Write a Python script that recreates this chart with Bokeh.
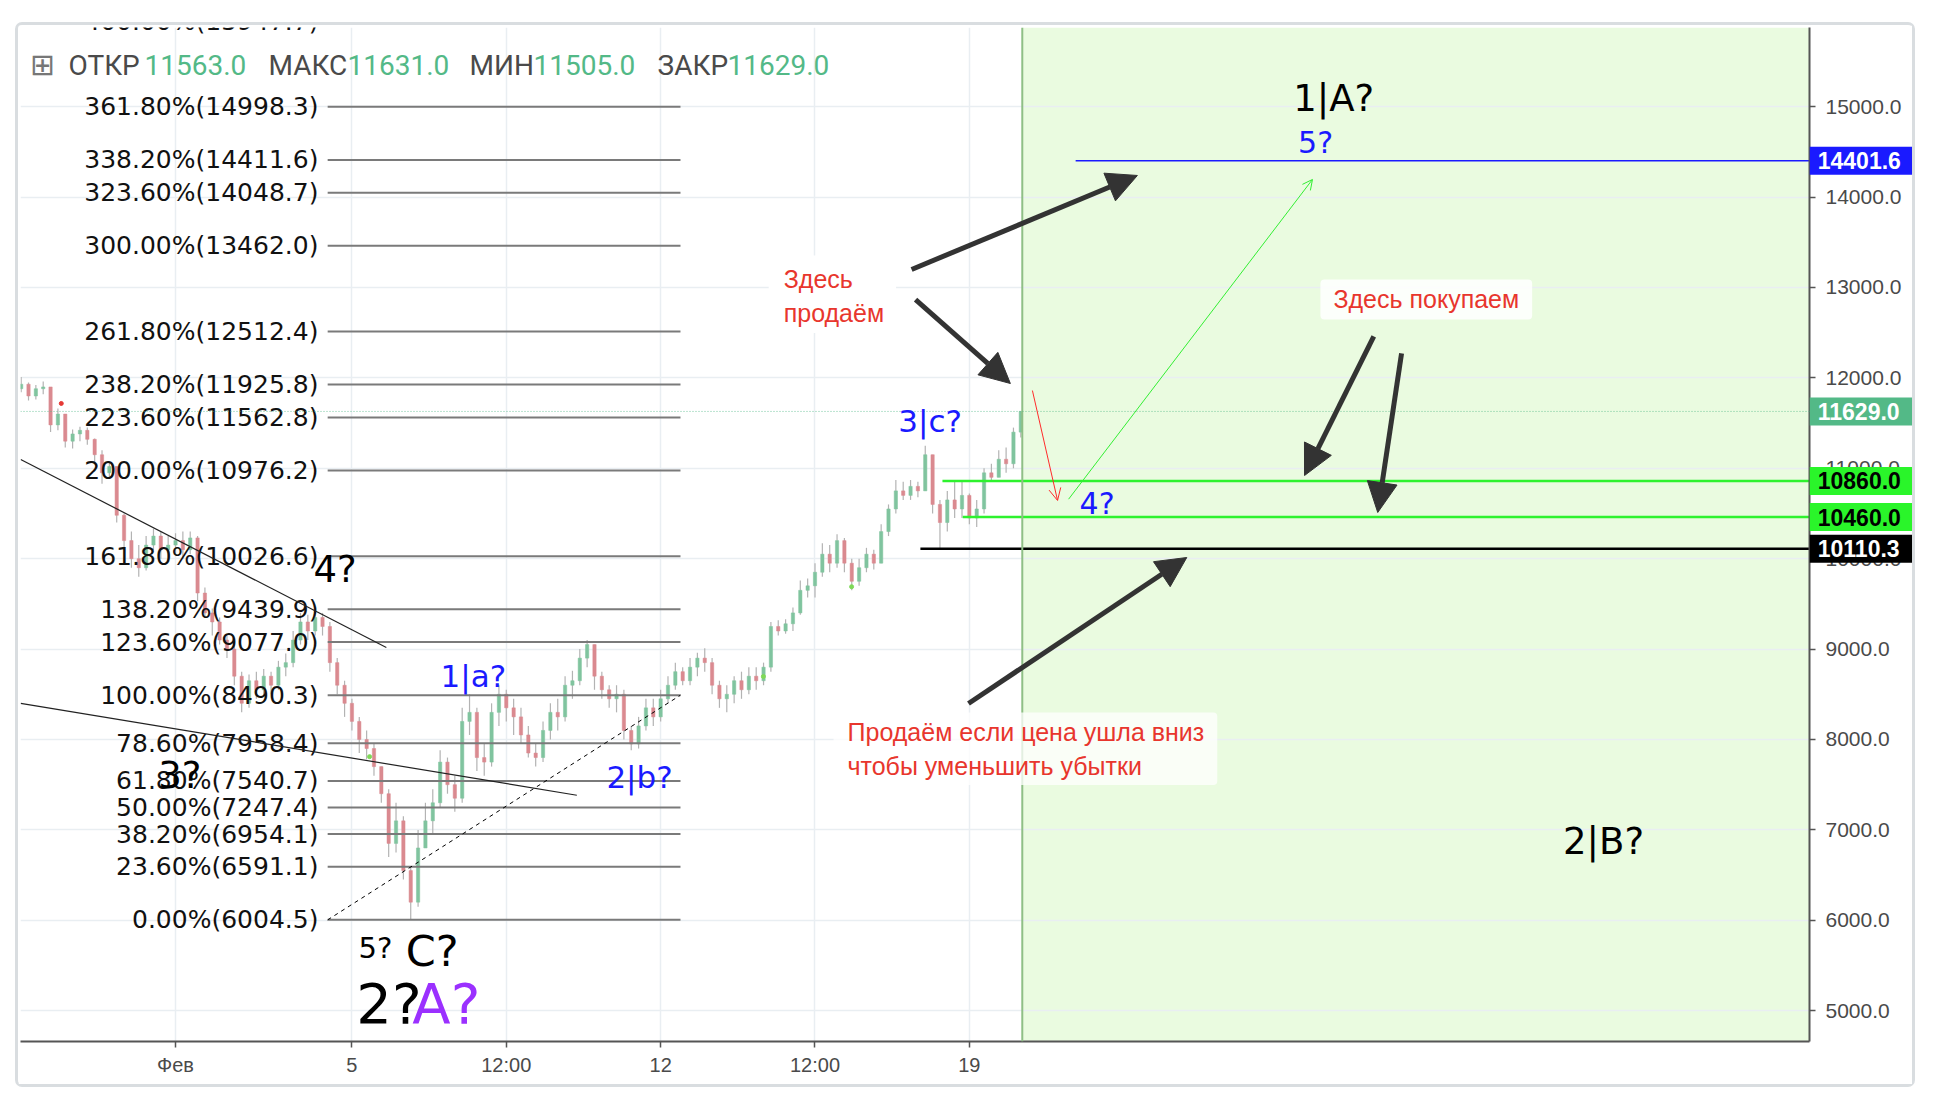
from bokeh.plotting import figure
from bokeh.layouts import row
from bokeh.models import (Label, Arrow, NormalHead, OpenHead, Span, BoxAnnotation,
                          FixedTicker, PrintfTickFormatter, Range1d, ColumnDataSource)
from bokeh.core.properties import value
from bokeh.embed import file_html
from bokeh.resources import INLINE

# ---------------- data ----------------
# 4-hour candles, time in days since 1 Feb (0 = "Фев")
candle_start = -3.5
candle_step = 1 / 6
first_open = 11880
closes = [11930, 11800, 11880, 11900, 11480, 11600, 11300, 11380, 11420, 11320,
          11150, 10950, 11020, 10480, 10200, 10000, 9900, 10150, 10250, 10100,
          10150, 10200, 10100, 10230, 9620, 9400, 9300, 9100, 9000, 8700,
          8400, 8650, 8550, 8700, 8600, 8800, 8850, 9100, 9300, 9200,
          9350, 9250, 8850, 8600, 8400, 8200, 8000, 7900, 7700, 7400,
          6850, 7100, 6550, 6200, 6800, 7100, 7300, 7750, 7500, 7350,
          8200, 8300, 7800, 7750, 8300, 8500, 8350, 8250, 8050, 7850,
          7800, 8100, 8300, 8250, 8600, 8650, 8900, 9050, 8700, 8550,
          8450, 8500, 8100, 7950, 8150, 8350, 8250, 8450, 8600, 8750,
          8650, 8800, 8900, 8850, 8600, 8450, 8500, 8650, 8550, 8700,
          8650, 8800, 9250, 9200, 9280, 9400, 9650, 9700, 9850, 10050,
          9950, 10200, 9950, 9750, 9900, 10050, 9950, 10300, 10550, 10750,
          10700, 10800, 10750, 11150, 10600, 10400, 10650, 10550, 10700, 10450,
          10550, 10950, 10900, 11100, 11050, 11400, 11629]
highs = [12010, 11950, 11920, 11960, 11900, 11660, 11600, 11430, 11460, 11450,
         11330, 11200, 11080, 11020, 10500, 10300, 10150, 10250, 10330, 10300,
         10250, 10280, 10300, 10300, 10250, 9680, 9450, 9350, 9150, 9050,
         8750, 8720, 8750, 8780, 8750, 8870, 8950, 9200, 9400, 9380,
         9420, 9400, 9300, 8900, 8650, 8450, 8250, 8100, 7950, 7700,
         7450, 7300, 7150, 6600, 7000, 7300, 7450, 7880, 7800, 7600,
         8350, 8500, 8350, 7950, 8400, 8600, 8550, 8450, 8350, 8150,
         7950, 8200, 8400, 8450, 8700, 8760, 9000, 9100, 9050, 8750,
         8600, 8600, 8550, 8150, 8250, 8450, 8450, 8550, 8700, 8850,
         8800, 8900, 8960, 9010, 8900, 8650, 8600, 8700, 8750, 8800,
         8800, 8850, 9300, 9320, 9330, 9460, 9760, 9780, 9950, 10170,
         10150, 10270, 10230, 10000, 10000, 10120, 10100, 10380, 10600, 10870,
         10850, 10870, 10850, 11250, 11150, 10650, 10750, 10860, 10850, 10720,
         10650, 11000, 11050, 11200, 11230, 11450, 11631]
lows = [11840, 11750, 11760, 11820, 11400, 11420, 11230, 11220, 11300, 11260,
        11050, 10830, 10900, 10400, 10100, 9900, 9800, 9870, 10100, 10000,
        9980, 10050, 10000, 10050, 9530, 9350, 9150, 9050, 8900, 8600,
        8300, 8350, 8450, 8480, 8500, 8550, 8700, 8800, 9050, 9100,
        9150, 9150, 8750, 8500, 8250, 8100, 7850, 7780, 7600, 7300,
        6700, 6750, 6450, 6005, 6150, 6800, 6960, 7250, 7400, 7200,
        7300, 8050, 7650, 7600, 7700, 8150, 8200, 8050, 7950, 7800,
        7700, 7750, 8000, 8100, 8200, 8450, 8600, 8800, 8550, 8450,
        8350, 8300, 8000, 7880, 7900, 8100, 8150, 8200, 8400, 8550,
        8600, 8600, 8700, 8750, 8500, 8350, 8300, 8400, 8450, 8500,
        8550, 8600, 8750, 9150, 9170, 9200, 9380, 9570, 9570, 9800,
        9850, 9900, 9850, 9650, 9700, 9850, 9880, 9950, 10250, 10500,
        10650, 10650, 10680, 10750, 10500, 10110, 10300, 10450, 10450, 10380,
        10350, 10500, 10850, 10900, 10950, 11000, 11340]

# small signal dots on the chart
dot_x = [-2.59, 4.40, 13.33, 15.33]
dot_y = [11717, 7810, 8697, 9690]
dot_colors = ["#e53935", "#7ed957", "#7ed957", "#7ed957"]

fib_pcts = ["0.00%", "23.60%", "38.20%", "50.00%", "61.80%", "78.60%", "100.00%",
            "123.60%", "138.20%", "161.80%", "200.00%", "223.60%", "238.20%",
            "261.80%", "300.00%", "323.60%", "338.20%", "361.80%", "400.00%"]
fib_prices = [6004.5, 6591.1, 6954.1, 7247.4, 7540.7, 7958.4, 8490.3, 9077.0,
              9439.9, 10026.6, 10976.2, 11562.8, 11925.8, 12512.4, 13462.0,
              14048.7, 14411.6, 14998.3, 15947.7]
fib_x = [3.45, 11.45]

x_ticks = [0, 4, 7.5, 11, 14.5, 18]
x_tick_labels = ["Фев", "5", "12:00", "12", "12:00", "19"]
y_ticks = [5000, 6000, 7000, 8000, 9000, 10000, 11000, 12000, 13000, 14000, 15000]

trend_upper_x = [-3.51, 4.78]
trend_upper_y = [11097, 9018]
trend_lower_x = [-3.51, 9.1]
trend_lower_y = [8400, 7383]

target_level = 14401.6
buy_levels = [10860.0, 10460.0]
stop_level = 10110.3
last_price = 11629.0
future_start = 19.2

tag_levels = [14401.6, 11629.0, 10860.0, 10460.0, 10110.3]
tag_texts = ["14401.6", "11629.0", "10860.0", "10460.0", "10110.3"]
tag_bg = ["#1a1aff", "#53b987", "#2af52a", "#2af52a", "#000000"]
tag_fg = ["white", "white", "black", "black", "white"]

ohlc_header = [("ОТКР", "11563.0"), ("МАКС", "11631.0"), ("МИН", "11505.0"), ("ЗАКР", "11629.0")]

# ---------------- figure ----------------
X0, X1 = -3.515, 37.05
Y0, Y1 = 4659, 15876
FIG_W, FIG_H = 1894, 1059
TOP_B, BOT_B, RIGHT_B = 2, 43, 103

p = figure(width=FIG_W, height=FIG_H, x_range=Range1d(X0, X1), y_range=Range1d(Y0, Y1),
           output_backend="svg", toolbar_location=None, y_axis_location="right",
           min_border_left=2, min_border_top=TOP_B, min_border_right=RIGHT_B,
           min_border_bottom=BOT_B)
p.margin = (25, 0, 0, 18)
p.styles = {"outline": "3px solid #d9dde0", "border-radius": "4px"}
p.outline_line_color = None
p.background_fill_color = "white"
p.border_fill_color = "white"

# grid
p.xgrid.ticker = FixedTicker(ticks=x_ticks)
p.ygrid.ticker = FixedTicker(ticks=y_ticks)
for g in (p.xgrid, p.ygrid):
    g.grid_line_color = "#e9eef2"
    g.grid_line_width = 1.5

# axes
p.xaxis.ticker = FixedTicker(ticks=x_ticks)
p.xaxis.major_label_overrides = {t: l for t, l in zip(x_ticks, x_tick_labels)}
p.yaxis.ticker = FixedTicker(ticks=y_ticks)
p.yaxis.formatter = PrintfTickFormatter(format="%.1f")
for ax in (p.xaxis, p.yaxis):
    ax.axis_line_color = "#555555"
    ax.axis_line_width = 2
    ax.major_tick_line_color = "#555555"
    ax.major_tick_line_width = 1.5
    ax.major_tick_out = 6
    ax.major_tick_in = 0
    ax.minor_tick_line_color = None
    ax.major_label_text_color = "#4a4a4a"
    ax.major_label_text_font = "Liberation Sans"
    ax.major_label_text_font_size = "20px"
p.yaxis.major_label_text_font_size = "21px"
p.yaxis.major_label_standoff = 10
p.xaxis.major_label_standoff = 6

# future zone
p.add_layout(BoxAnnotation(left=future_start, fill_color="#eafbe0", fill_alpha=1.0,
                           line_color=None, level="image"))
p.add_layout(Span(location=future_start, dimension="height", line_color="#8fbf86", line_width=2))
p.add_layout(Span(location=last_price, dimension="width", line_color="#53b987",
                  line_width=1, line_dash="1 2", line_alpha=0.8))

# candles
t = [candle_start + i * candle_step for i in range(len(closes))]
opens = [first_open] + closes[:-1]
colors = ["#80c49f" if c >= o else "#da8a90" for o, c in zip(opens, closes)]
src = ColumnDataSource(dict(t=t, o=opens, c=closes, h=highs, l=lows, col=colors))
p.segment(x0="t", x1="t", y0="l", y1="h", source=src, line_color="#b3b3b3", line_width=1.2)
p.vbar(x="t", width=candle_step * 0.45, top="o", bottom="c", source=src,
       fill_color="col", line_color="col", line_width=0.5)
p.scatter(dot_x, dot_y, size=4, color=dot_colors)

# fibonacci
p.segment(x0=[fib_x[0]] * len(fib_prices), x1=[fib_x[1]] * len(fib_prices),
          y0=fib_prices, y1=fib_prices, line_color="#7a7a7a", line_width=2)
fib_labels = [f"{a}({b:.1f})" for a, b in zip(fib_pcts, fib_prices)]
p.text(x=[fib_x[0] - 0.21] * len(fib_prices), y=fib_prices, text=fib_labels,
       text_align="right", text_baseline="middle", text_color="#111111",
       text_font=value("DejaVu Sans"), text_font_size="25px")
p.line(fib_x, [fib_prices[0], fib_prices[6]], line_color="black", line_width=1, line_dash="4 4")

# trend lines
p.line(trend_upper_x, trend_upper_y, line_color="#222222", line_width=1.2)
p.line(trend_lower_x, trend_lower_y, line_color="#222222", line_width=1.2)

# horizontal levels
p.ray(x=[20.41], y=[target_level], length=0, angle=0, line_color="#1a1aff", line_width=1.5)
p.ray(x=[17.39, 17.85], y=buy_levels, length=0, angle=0, line_color="#2ef22e", line_width=2.5)
p.ray(x=[16.89], y=[stop_level], length=0, angle=0, line_color="black", line_width=2.5)

# arrows
def big_arrow(xs, ys, xe, ye):
    p.add_layout(Arrow(end=NormalHead(size=30, fill_color="#333333", line_color="#333333"),
                       x_start=xs, y_start=ys, x_end=xe, y_end=ye,
                       line_color="#333333", line_width=5))

big_arrow(16.69, 13199, 21.81, 14239)
big_arrow(16.78, 12867, 18.93, 11938)
big_arrow(17.98, 8398, 22.93, 10013)
big_arrow(27.17, 12458, 25.60, 10920)
big_arrow(27.80, 12270, 27.26, 10511)
p.add_layout(Arrow(end=OpenHead(size=12, line_color="#ff2a2a", line_width=1),
                   x_start=19.43, y_start=11860, x_end=20.0, y_end=10644,
                   line_color="#ff2a2a", line_width=1))
p.add_layout(Arrow(end=OpenHead(size=10, line_color="#33ee33", line_width=1),
                   x_start=20.25, y_start=10658, x_end=25.78, y_end=14195,
                   line_color="#33ee33", line_width=1))

# wave labels
def lab(x, y, text, color, size, font="DejaVu Sans", align="left"):
    p.add_layout(Label(x=x, y=y, text=text, text_color=color, text_font=font,
                       text_font_size=size, text_align=align, text_baseline="middle"))

BLUE = "#1a1aff"
lab(3.13, 9883, "4?", "black", "37px")
lab(-0.39, 7600, "3?", "black", "37px")
lab(6.01, 8706, "1|a?", BLUE, "31px")
lab(9.77, 7580, "2|b?", BLUE, "31px")
lab(16.39, 11519, "3|c?", BLUE, "31px")
lab(20.50, 10611, "4?", BLUE, "30px")
lab(25.85, 14602, "5?", BLUE, "30px", align="center")
lab(26.26, 15090, "1|A?", "black", "37px", align="center")
lab(32.38, 6870, "2|B?", "black", "37px", align="center")
lab(4.15, 5690, "5?", "black", "29px")
lab(5.22, 5655, "C?", "black", "43px")
lab(4.10, 5077, "2?", "black", "56px")
lab(5.37, 5077, "A?", "#9b30ff", "56px")

# red notes in boxes
RED = "#e8362d"

def note(x, y, text, baseline, alpha, pad):
    kw = dict(x=x, y=y, text=text, text_color=RED, text_font="Liberation Sans",
              text_font_size="25px", text_align="left", text_baseline=baseline,
              background_fill_color="white", background_fill_alpha=alpha)
    try:
        lbl = Label(padding=pad, border_radius=4, **kw)
    except Exception:
        lbl = Label(padding=8, **kw)
    p.add_layout(lbl)

note(13.45, 13354, "Здесь\nпродаём", "top", 1.0, dict(left=15, right=12, top=10, bottom=6))
note(25.96, 12868, "Здесь покупаем", "middle", 0.85, dict(left=13, right=13, top=6, bottom=6))
note(14.92, 8299, "Продаём если цена ушла вниз\nчтобы уменьшить убытки", "top", 0.75,
     dict(left=14, right=13, top=6, bottom=5))

# header
head_x = [(-2.426, -0.703), (2.109, 3.90), (6.667, 8.118), (10.93, 12.517)]
for (name, val), (xn, xv) in zip(ohlc_header, head_x):
    lab(xn, 15456, name, "#4a4a4a", "28px", font="Roboto")
    lab(xv, 15456, val, "#53b987", "28px", font="Roboto")
lab(-3.016, 15470, "⊞", "#777777", "30px", align="center")

# ---------------- price tags over the right axis ----------------
p2 = figure(width=RIGHT_B, height=FIG_H, x_range=Range1d(0, 1), y_range=p.y_range,
            output_backend="svg", toolbar_location=None, x_axis_type=None, y_axis_type=None,
            min_border_left=0, min_border_right=0, min_border_top=TOP_B,
            min_border_bottom=BOT_B)
p2.margin = (25, 0, 0, -RIGHT_B)
p2.outline_line_color = None
p2.background_fill_alpha = 0
p2.border_fill_alpha = 0
p2.grid.visible = False
p2.rect(x=0.5, y=tag_levels, width=1, height=28, height_units="screen",
        fill_color=tag_bg, line_color=None)
p2.text(x=[0.08] * len(tag_levels), y=tag_levels, text=tag_texts, text_color=tag_fg,
        text_font=value("Liberation Sans"), text_font_size="23px", text_font_style="bold",
        text_align="left", text_baseline="middle")

layout = row(p, p2)
open("out.html", "w").write(file_html(layout, INLINE))
